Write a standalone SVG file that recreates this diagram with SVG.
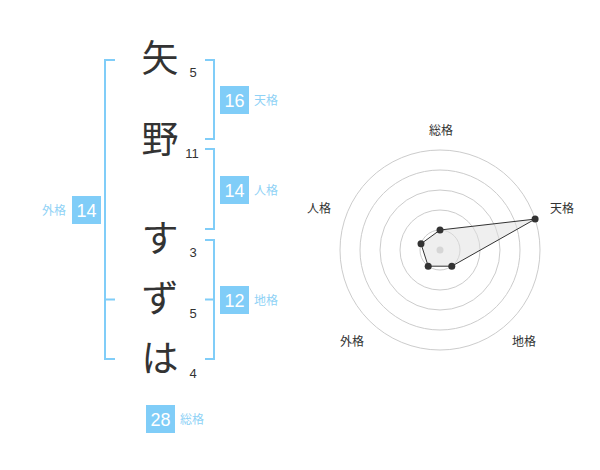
<svg xmlns="http://www.w3.org/2000/svg" width="600" height="470" viewBox="0 0 600 470">
<style>
text{font-family:"Liberation Sans","Noto Sans CJK JP",sans-serif}
.ch{font-size:37px;fill:#333;text-anchor:middle}
.st{font-size:13px;fill:#333;text-anchor:middle}
.br{fill:none;stroke:#80cdf8;stroke-width:2}
.box{fill:#80cdf8}
.bn{font-size:18px;fill:#fff;text-anchor:middle}
.bl{font-size:12px;fill:#8fd2f6}
.ring{fill:none;stroke:#ccc;stroke-width:1}
.rl{font-size:12px;fill:#333;text-anchor:middle}
.pt{fill:#333}
</style>
<rect width="600" height="470" fill="#fff"/>
<g id="chars">
<g id="c1"><text class="ch" x="160" y="72">矢</text><text class="st" x="193" y="77">5</text></g>
<g id="c2"><text class="ch" x="160" y="153">野</text><text class="st" x="192" y="158">11</text></g>
<g id="c3"><text class="ch" x="160" y="252">す</text><text class="st" x="193" y="257">3</text></g>
<g id="c4"><text class="ch" x="160" y="312">ず</text><text class="st" x="193" y="318">5</text></g>
<g id="c5"><text class="ch" x="160" y="372">は</text><text class="st" x="193" y="378">4</text></g>
</g>
<g id="connectors">
<path class="br" d="M115,60H105V359H115M105,299.5H115"/>
<path class="br" d="M205,60H214V139H205"/>
<path class="br" d="M205,149H214V229H205"/>
<path class="br" d="M205,240H214V359H205M205,299.5H214"/>
</g>
<g id="gaikaku"><rect class="box" x="72" y="196" width="29" height="28"/><text class="bn" x="86.5" y="216.5">14</text><text class="bl" x="66" y="214.5" text-anchor="end">外格</text></g>
<g id="tenkaku"><rect class="box" x="220" y="86" width="29" height="28"/><text class="bn" x="234.5" y="106.5">16</text><text class="bl" x="254" y="104.5">天格</text></g>
<g id="jinkaku"><rect class="box" x="220" y="176" width="29" height="28"/><text class="bn" x="234.5" y="196.5">14</text><text class="bl" x="254" y="194.5">人格</text></g>
<g id="chikaku"><rect class="box" x="220" y="286" width="29" height="28"/><text class="bn" x="234.5" y="306.5">12</text><text class="bl" x="254" y="304.5">地格</text></g>
<g id="soukaku"><rect class="box" x="146" y="405" width="29" height="28"/><text class="bn" x="160.5" y="425.5">28</text><text class="bl" x="180" y="423.5">総格</text></g>
<g id="radar">
<circle class="ring" cx="440" cy="250" r="20"/>
<circle class="ring" cx="440" cy="250" r="40"/>
<circle class="ring" cx="440" cy="250" r="60"/>
<circle class="ring" cx="440" cy="250" r="80"/>
<circle class="ring" cx="440" cy="250" r="100"/>
<circle cx="440" cy="250" r="3.5" fill="#ccc"/>
<polygon points="440,230 535.1,219.1 451.8,266.2 428.2,266.2 421,243.8" fill="#e0e0e0" fill-opacity="0.5" stroke="#333" stroke-width="1"/>
<circle class="pt" cx="440" cy="230" r="3.5"/>
<circle class="pt" cx="535.1" cy="219.1" r="3.5"/>
<circle class="pt" cx="451.8" cy="266.2" r="3.5"/>
<circle class="pt" cx="428.2" cy="266.2" r="3.5"/>
<circle class="pt" cx="421" cy="243.8" r="3.5"/>
<text class="rl" x="441" y="135">総格</text>
<text class="rl" x="562" y="213">天格</text>
<text class="rl" x="319" y="213">人格</text>
<text class="rl" x="352" y="346">外格</text>
<text class="rl" x="524" y="346">地格</text>
</g>
</svg>
